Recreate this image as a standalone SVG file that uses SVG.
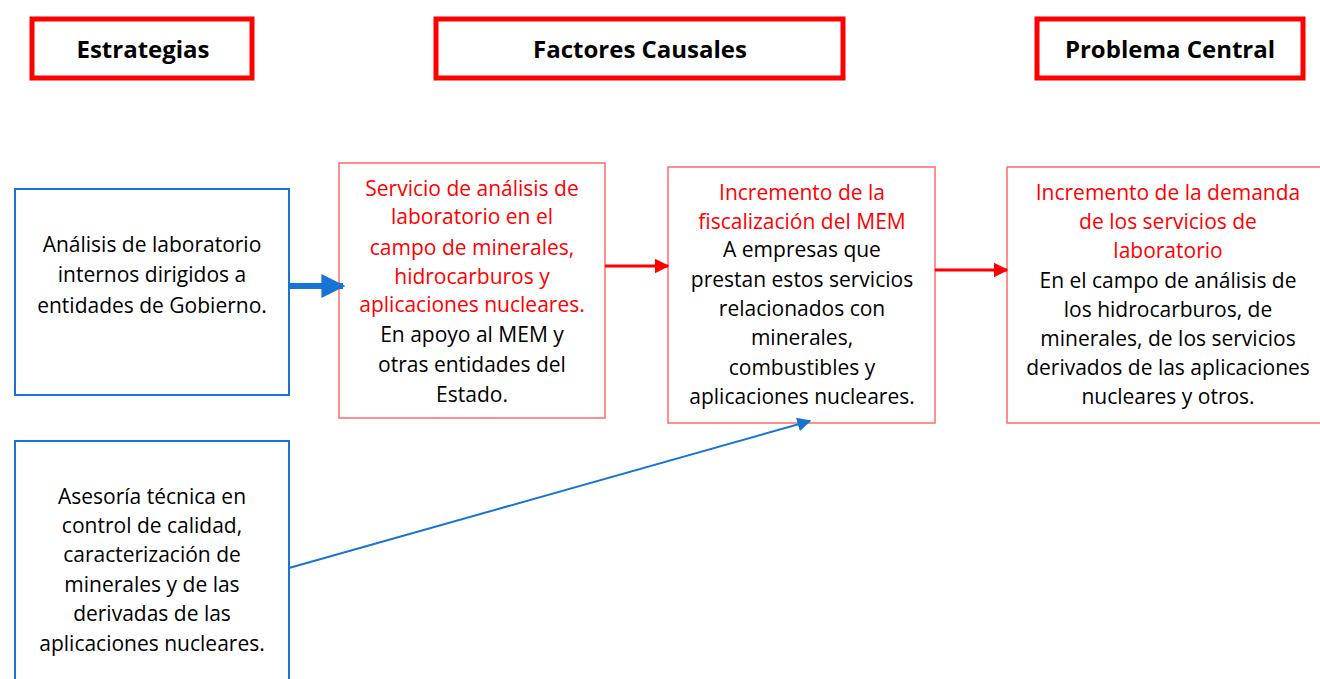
<svg xmlns="http://www.w3.org/2000/svg" width="1320" height="679" viewBox="0 0 1320 679">
<style>
.hdr{fill:#fff;stroke:#ff0000;stroke-width:5}
.ht{font-family:"Open Sans",Lato,sans-serif;font-weight:bold;font-size:24px;fill:#000;text-anchor:middle}
.bb{fill:#fff;stroke:#1874d2;stroke-width:2}
.rb{fill:#fff;stroke:#ff6b6b;stroke-width:1.5}
.t{font-family:"Open Sans",Lato,sans-serif;font-size:21px;text-anchor:middle;fill:#000}
.r{fill:#ff0000}
</style>
<defs>
<marker id="ab" viewBox="0 0 10 10" refX="9" refY="5" markerWidth="4" markerHeight="4" markerUnits="strokeWidth" orient="auto"><path d="M0,0L10,5L0,10z" fill="#1874d2"/></marker>
<marker id="abs" viewBox="0 0 10 10" refX="9" refY="5" markerWidth="7" markerHeight="7" markerUnits="strokeWidth" orient="auto"><path d="M0,0L10,5L0,10z" fill="#1874d2"/></marker>
<marker id="ar" viewBox="0 0 10 10" refX="9" refY="5" markerWidth="5" markerHeight="5" markerUnits="strokeWidth" orient="auto"><path d="M0,0L10,5L0,10z" fill="#ff0000"/></marker>
</defs>
<rect width="1320" height="679" fill="#fff"/>
<g id="h1"><rect class="hdr" x="32" y="19" width="220" height="59"/><text class="ht" x="143" y="58">Estrategias</text></g>
<g id="h2"><rect class="hdr" x="436" y="19" width="407" height="59"/><text class="ht" x="640" y="58">Factores Causales</text></g>
<g id="h3"><rect class="hdr" x="1037" y="19" width="266" height="59"/><text class="ht" x="1170" y="58">Problema Central</text></g>
<g id="n1"><rect class="bb" x="15" y="189" width="274" height="206"/>
<text class="t"><tspan x="152" y="252">Análisis de laboratorio</tspan><tspan x="152" y="282">internos dirigidos a</tspan><tspan x="152" y="313">entidades de Gobierno.</tspan></text></g>
<g id="n2"><rect class="rb" x="339" y="163" width="266" height="255"/>
<text class="t"><tspan class="r" x="472" y="196">Servicio de análisis de</tspan><tspan class="r" x="472" y="224">laboratorio en el</tspan><tspan class="r" x="472" y="255">campo de minerales,</tspan><tspan class="r" x="472" y="284">hidrocarburos y</tspan><tspan class="r" x="472" y="312">aplicaciones nucleares.</tspan><tspan x="472" y="342">En apoyo al MEM y</tspan><tspan x="472" y="372">otras entidades del</tspan><tspan x="472" y="402">Estado.</tspan></text></g>
<g id="n3"><rect class="rb" x="668" y="167" width="267" height="256"/>
<text class="t"><tspan class="r" x="802" y="200">Incremento de la</tspan><tspan class="r" x="802" y="229">fiscalización del MEM</tspan><tspan x="802" y="257">A empresas que</tspan><tspan x="802" y="287">prestan estos servicios</tspan><tspan x="802" y="316">relacionados con</tspan><tspan x="802" y="345">minerales,</tspan><tspan x="802" y="375">combustibles y</tspan><tspan x="802" y="404">aplicaciones nucleares.</tspan></text></g>
<g id="n4"><rect class="rb" x="1007" y="167" width="318" height="256"/>
<text class="t"><tspan class="r" x="1168" y="200">Incremento de la demanda</tspan><tspan class="r" x="1168" y="229">de los servicios de</tspan><tspan class="r" x="1168" y="258">laboratorio</tspan><tspan x="1168" y="288">En el campo de análisis de</tspan><tspan x="1168" y="317">los hidrocarburos, de</tspan><tspan x="1168" y="346">minerales, de los servicios</tspan><tspan x="1168" y="375">derivados de las aplicaciones</tspan><tspan x="1168" y="404">nucleares y otros.</tspan></text></g>
<g id="n5"><rect class="bb" x="15" y="441" width="274" height="250"/>
<text class="t"><tspan x="152" y="504">Asesoría técnica en</tspan><tspan x="152" y="533">control de calidad,</tspan><tspan x="152" y="562">caracterización de</tspan><tspan x="152" y="592">minerales y de las</tspan><tspan x="152" y="621">derivadas de las</tspan><tspan x="152" y="651">aplicaciones nucleares.</tspan></text></g>
<g id="connectors" fill="none">
<line x1="289" y1="286" x2="343" y2="286" stroke="#1874d2" stroke-width="6" marker-end="url(#ab)"/>
<line x1="605" y1="266" x2="668" y2="266" stroke="#ff0000" stroke-width="3" marker-end="url(#ar)"/>
<line x1="935" y1="270" x2="1007" y2="270" stroke="#ff0000" stroke-width="3" marker-end="url(#ar)"/>
<line x1="289" y1="568" x2="810" y2="421" stroke="#1874d2" stroke-width="2" marker-end="url(#abs)"/>
</g>
</svg>
